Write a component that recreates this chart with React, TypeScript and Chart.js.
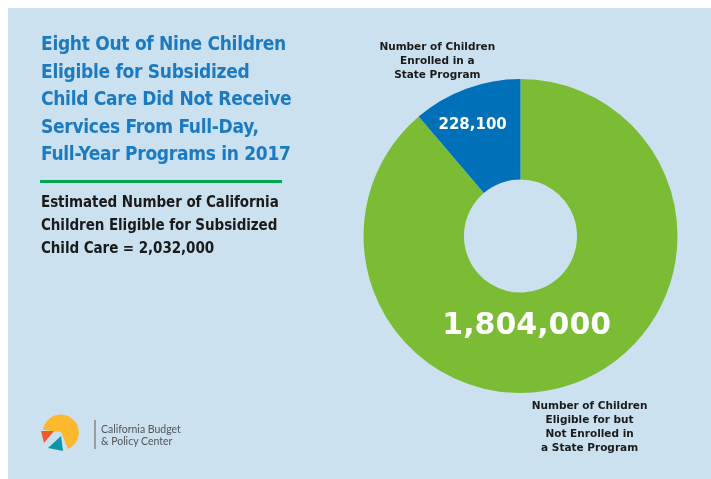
import React, { useEffect, useRef } from "react";
import { Chart, registerables } from "chart.js";

Chart.register(...registerables);

const categories = [
  ["Number of Children", "Eligible for but", "Not Enrolled in", "a State Program"],
  ["Number of Children", "Enrolled in a", "State Program"],
];
const values = [1804000, 228100];
const valueLabels = ["1,804,000", "228,100"];
const sliceColors = ["#7BBC34", "#0070B9"];
const titleLines = [
  "Eight Out of Nine Children",
  "Eligible for Subsidized",
  "Child Care Did Not Receive",
  "Services From Full-Day,",
  "Full-Year Programs in 2017",
];
const subtitleLines = [
  "Estimated Number of California",
  "Children Eligible for Subsidized",
  "Child Care = 2,032,000",
];

const BG = "#CBE1F0";

const labelPlugin = {
  id: "donutLabels",
  afterDatasetsDraw(chart: any) {
    const ctx = chart.ctx;
    const arc = chart.getDatasetMeta(0).data[0];
    if (!arc) return;
    const cx = arc.x;
    const cy = arc.y;
    const r = arc.outerRadius;
    ctx.save();
    ctx.textAlign = "center";
    ctx.textBaseline = "middle";
    ctx.fillStyle = "#ffffff";
    ctx.font = "bold 30px 'DejaVu Sans'";
    ctx.fillText(valueLabels[0], cx + r * 0.04, cy + r * 0.575);
    ctx.font = "bold 15px 'DejaVu Sans'";
    ctx.fillText(valueLabels[1], cx - r * 0.305, cy - r * 0.705);
    ctx.fillStyle = "#1a1a1a";
    ctx.font = "bold 10.5px 'DejaVu Sans'";
    const lh = 14;
    const top = categories[1];
    const tx = cx - r * 0.53;
    const ty = cy - r * 1.115;
    top.forEach((t, i) => ctx.fillText(t, tx, ty + (i - (top.length - 1) / 2) * lh));
    const bot = categories[0];
    const bx = cx + r * 0.44;
    const by = cy + r * 1.22;
    bot.forEach((t, i) => ctx.fillText(t, bx, by + (i - (bot.length - 1) / 2) * lh));
    ctx.restore();
  },
};

function Logo() {
  return (
    <div style={{ position: "absolute", left: 32, top: 405, width: 200, height: 50 }}>
      <svg width="50" height="46" style={{ position: "absolute", left: 0, top: 0 }}>
        <path d="M21 19 L3 17 A18 18 0 1 1 28 36 Z" fill="#FDB92E" />
        <path d="M1 18 L14 18 L4 30 Z" fill="#EF5A28" />
        <path d="M8 35 L21 23 L23 38 Z" fill="#0E96A8" />
      </svg>
      <div style={{ position: "absolute", left: 54, top: 7, width: 1.5, height: 29, background: "#9a9a9a" }} />
      <div
        style={{
          position: "absolute",
          left: 61,
          top: 10,
          fontFamily: "Lato, 'Open Sans', sans-serif",
          fontSize: 10.5,
          lineHeight: "12px",
          color: "#555",
          whiteSpace: "nowrap",
        }}
      >
        California Budget
        <br />& Policy Center
      </div>
    </div>
  );
}

export default function App() {
  const canvasRef = useRef<HTMLCanvasElement | null>(null);

  useEffect(() => {
    const canvas = canvasRef.current;
    if (!canvas) return;
    const chart = new Chart(canvas, {
      type: "doughnut",
      data: {
        labels: categories.map((c) => c.join(" ")),
        datasets: [
          {
            data: values,
            backgroundColor: sliceColors,
            borderWidth: 0,
          },
        ],
      },
      options: {
        responsive: false,
        animation: false,
        cutout: "36%",
        rotation: 0,
        layout: { padding: { left: 355.5, right: 33.5, top: 71, bottom: 86 } },
        plugins: {
          legend: { display: false },
          tooltip: { enabled: false },
        },
      },
      plugins: [labelPlugin],
    });
    return () => chart.destroy();
  }, []);

  return (
    <div
      style={{
        position: "fixed",
        left: 8,
        top: 8,
        right: 0,
        bottom: 0,
        background: BG,
        overflow: "hidden",
      }}
    >
      <canvas ref={canvasRef} width={703} height={471} style={{ position: "absolute", left: 0, top: 0 }} />
      <div
        style={{
          position: "absolute",
          left: 33,
          top: 22,
          fontFamily: "'DejaVu Sans Condensed', 'DejaVu Sans', sans-serif",
          fontWeight: "bold",
          fontSize: 19,
          letterSpacing: "-0.3px",
          lineHeight: "27.5px",
          color: "#1C7AC0",
          whiteSpace: "nowrap",
        }}
      >
        {titleLines.map((t, i) => (
          <div key={i}>{t}</div>
        ))}
      </div>
      <div style={{ position: "absolute", left: 32, top: 172, width: 242, height: 2.5, background: "#00A651" }} />
      <div
        style={{
          position: "absolute",
          left: 33,
          top: 182.5,
          fontFamily: "'DejaVu Sans Condensed', 'DejaVu Sans', sans-serif",
          fontWeight: "bold",
          fontSize: 15,
          letterSpacing: "-0.07px",
          lineHeight: "23px",
          color: "#1a1a1a",
          whiteSpace: "nowrap",
        }}
      >
        {subtitleLines.map((t, i) => (
          <div key={i}>{t}</div>
        ))}
      </div>
      <Logo />
    </div>
  );
}
